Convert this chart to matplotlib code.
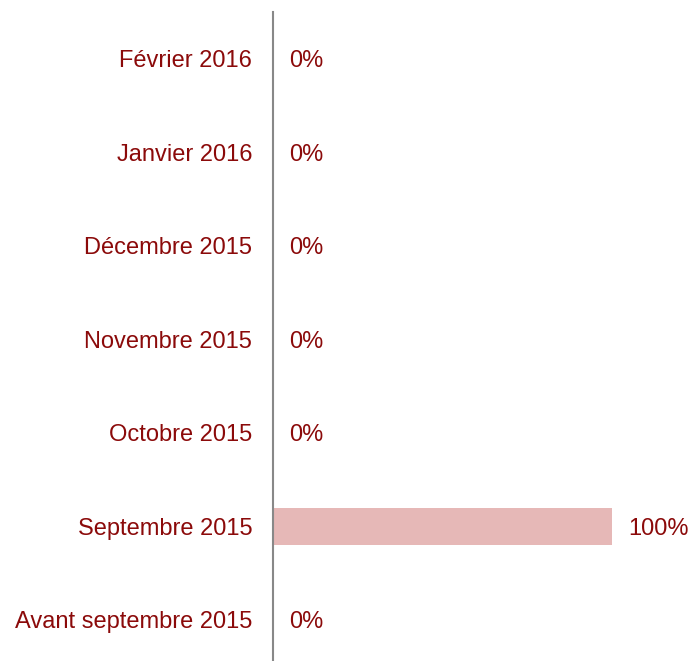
import matplotlib.pyplot as plt

# chart data
categories = ['Avant septembre 2015', 'Septembre 2015', 'Octobre 2015',
              'Novembre 2015', 'Décembre 2015', 'Janvier 2016', 'Février 2016']
values = [0, 100, 0, 0, 0, 0, 0]

text_color = '#8B0A0A'
bar_color = '#E6B8B7'

plt.rcParams['font.family'] = ['Liberation Sans', 'DejaVu Sans']

fig = plt.figure(figsize=(6.92, 6.61), dpi=100)
ax = fig.add_axes([273 / 692, 0, 1 - 273 / 692, 649 / 661])

ypos = list(range(len(categories)))
ax.barh(ypos, values, height=0.4, color=bar_color, left=0)

for y, v in zip(ypos, values):
    ax.annotate(f'{v}%', xy=(v, y), xytext=(11.5, 0), textcoords='offset points',
                ha='left', va='center_baseline', fontsize=17, color=text_color)

ax.set_xlim(0, 123.6)
ax.set_ylim(-0.44, 6.5)
ax.set_yticks(ypos)
ax.set_yticklabels(categories, fontsize=17, color=text_color, va='center_baseline')
ax.tick_params(axis='y', length=0, pad=15)
ax.set_xticks([])

for side in ['top', 'right', 'bottom']:
    ax.spines[side].set_visible(False)
ax.spines['left'].set_color('#888888')
ax.spines['left'].set_linewidth(1.5)

fig.savefig('out.png', dpi=100)
